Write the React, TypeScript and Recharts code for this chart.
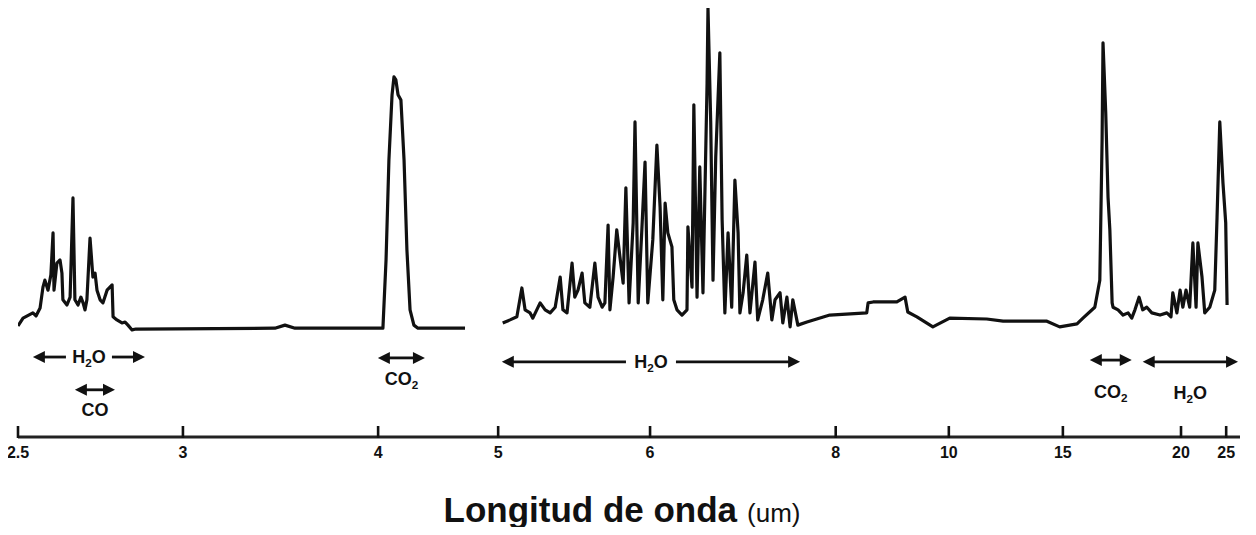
import React from 'react';
import { LineChart, Line, XAxis, YAxis, ReferenceLine, Label } from 'recharts';

// Spectrum traces: [wavenumber cm^-1, signal (0-100)]
const shortWavePoints: [number, number][] = [
  [4000, 25.4], [3979, 27.2], [3938, 28.4], [3925, 27.7], [3908, 29.5],
  [3896, 34.3], [3888, 35.9], [3875, 33.6], [3863, 37.1], [3854, 46.7],
  [3850, 33.6], [3838, 39.8], [3825, 40.5], [3817, 37.5], [3813, 31.4],
  [3796, 30.2], [3783, 32.0], [3771, 54.7], [3763, 31.4], [3750, 30.2],
  [3738, 32.0], [3729, 30.7], [3721, 29.1], [3713, 31.4], [3700, 45.5],
  [3688, 36.6], [3679, 37.5], [3671, 33.6], [3658, 31.4], [3646, 30.7],
  [3629, 33.6], [3608, 34.8], [3604, 27.5], [3588, 26.8], [3567, 26.1],
  [3554, 26.3], [3542, 25.6], [3525, 24.5], [3509, 24.7], [2930, 24.9],
  [2888, 25.6], [2846, 24.9], [2480, 24.9], [2467, 40.5], [2455, 63.4],
  [2442, 78.3], [2434, 82.4], [2426, 81.7], [2417, 78.3], [2405, 77.1],
  [2392, 63.4], [2380, 42.8], [2367, 29.1], [2351, 25.6], [2334, 24.9],
  [2138, 24.9],
];

const longWavePoints: [number, number][] = [
  [1990, 26.1], [1974, 26.8], [1959, 27.5], [1948, 34.1], [1941, 29.1],
  [1930, 28.4], [1924, 27.2], [1908, 30.7], [1897, 29.1], [1886, 28.4],
  [1875, 29.7], [1864, 36.6], [1858, 29.1], [1849, 28.4], [1838, 39.8],
  [1832, 32.0], [1825, 33.6], [1816, 37.5], [1810, 30.7], [1799, 29.7],
  [1788, 39.8], [1781, 32.0], [1772, 29.7], [1766, 30.7], [1759, 48.5],
  [1755, 29.1], [1748, 36.6], [1740, 47.4], [1733, 41.2], [1726, 35.2],
  [1720, 57.0], [1713, 30.7], [1704, 49.0], [1700, 72.1], [1693, 30.7],
  [1685, 47.4], [1678, 62.9], [1672, 30.7], [1661, 45.1], [1652, 66.8],
  [1645, 52.6], [1639, 31.4], [1634, 53.5], [1628, 46.7], [1619, 43.5],
  [1615, 31.4], [1608, 29.1], [1597, 27.9], [1586, 29.1], [1584, 48.1],
  [1575, 34.3], [1571, 76.0], [1564, 32.0], [1558, 61.8], [1551, 33.0],
  [1542, 81.0], [1540, 98.2], [1534, 71.9], [1529, 35.9], [1523, 64.1],
  [1514, 87.9], [1509, 49.7], [1503, 28.4], [1496, 46.7], [1488, 29.7],
  [1481, 58.8], [1474, 46.7], [1470, 28.4], [1463, 33.0], [1455, 41.6],
  [1448, 28.4], [1437, 40.0], [1431, 26.8], [1420, 31.4], [1409, 37.5],
  [1400, 26.8], [1393, 31.4], [1382, 33.0], [1376, 26.1], [1367, 32.0],
  [1360, 25.2], [1354, 31.4], [1343, 25.6], [1323, 26.3], [1273, 27.9],
  [1192, 28.4], [1189, 30.7], [1178, 30.9], [1126, 30.9], [1108, 32.0],
  [1102, 28.6], [1082, 27.5], [1047, 25.2], [1010, 27.2], [929, 27.0],
  [893, 26.5], [797, 26.5], [769, 25.2], [731, 25.9], [718, 27.2],
  [692, 29.7], [681, 35.9], [676, 68.0], [674, 90.2], [668, 74.1],
  [663, 54.9], [659, 47.4], [654, 30.7], [652, 29.7], [641, 29.1],
  [630, 27.9], [619, 28.4], [611, 27.2], [604, 29.1], [595, 32.0],
  [587, 29.1], [578, 29.7], [567, 28.4], [549, 27.9], [534, 28.4],
  [525, 27.5], [521, 33.0], [512, 28.4], [505, 33.6], [499, 29.7],
  [492, 33.6], [484, 29.7], [477, 44.4], [470, 29.7], [466, 44.4],
  [457, 36.6], [451, 28.4], [440, 29.7], [429, 33.6], [424, 50.3],
  [418, 72.1], [411, 58.1], [405, 49.0], [402, 30.2],
];

// Axis ticks (positions as drawn in the figure, in cm^-1) and their wavelength labels (µm)
const tickWavenumbers = [4000, 3313, 2500, 2000, 1667, 1260, 1012, 762, 503, 404];
const tickLabels = ['2.5', '3', '4', '5', '6', '8', '10', '15', '20', '25'];

// Band assignments: molecule and wavenumber span (cm^-1)
const bandFormulas = ['H2O', 'CO', 'CO2', 'H2O', 'CO2', 'H2O'];
const bandFrom = [3938, 3763, 2501, 1992, 703, 587];
const bandTo = [3471, 3596, 2305, 1338, 611, 378];
const bandLevel = [18.3, 10.8, 18.1, 17.2, 17.6, 17.2];

// layout for band labels (inline in arrow, or below with pixel offset)
const bandLayout = [
  { inline: true, gap: 46, dy: 0 },
  { inline: false, gap: 0, dy: 20 },
  { inline: false, gap: 0, dy: 21 },
  { inline: true, gap: 50, dy: 0 },
  { inline: false, gap: 0, dy: 32 },
  { inline: false, gap: 0, dy: 31 },
];

// Grating-change axis: 4000-2000 cm^-1 at one scale, 2000-400 at 1.9x
const toAxis = (wn: number) => (wn >= 2000 ? 4000 - wn : 2000 + 1.9 * (2000 - wn));

const shortData = shortWavePoints.map(([wn, v]) => ({ u: toAxis(wn), v }));
const longData = longWavePoints.map(([wn, v]) => ({ u: toAxis(wn), v }));
const tickU = tickWavenumbers.map(toAxis);

const FONT = '"Liberation Sans", Arial, sans-serif';
const INK = '#111';

function Formula({ text, x, y, size }: { text: string; x: number; y: number; size: number }) {
  const parts: React.ReactNode[] = [];
  let shifted = false;
  text.split('').forEach((ch, i) => {
    if (/[0-9]/.test(ch)) {
      parts.push(
        <tspan key={i} dy={4} fontSize={size * 0.65}>
          {ch}
        </tspan>
      );
      shifted = true;
    } else {
      parts.push(
        <tspan key={i} dy={shifted ? -4 : 0}>
          {ch}
        </tspan>
      );
      shifted = false;
    }
  });
  return (
    <text x={x} y={y} textAnchor="middle" fontFamily={FONT} fontWeight={700} fontSize={size} fill={INK}>
      {parts}
    </text>
  );
}

function BandArrow(props: any) {
  const { x1, y1, x2, y2, idx } = props;
  const layout = bandLayout[idx];
  const formula = bandFormulas[idx];
  const y = (y1 + y2) / 2;
  const left = Math.min(x1, x2);
  const right = Math.max(x1, x2);
  const head = 12;
  const half = 6;
  const cx = (left + right) / 2;
  const sw = 2.8;
  return (
    <g>
      {layout.inline ? (
        <>
          <line x1={left + head - 1} y1={y} x2={cx - layout.gap / 2} y2={y} stroke={INK} strokeWidth={sw} />
          <line x1={cx + layout.gap / 2} y1={y} x2={right - head + 1} y2={y} stroke={INK} strokeWidth={sw} />
          <Formula text={formula} x={cx} y={y + 6} size={18} />
        </>
      ) : (
        <>
          <line x1={left + head - 1} y1={y} x2={right - head + 1} y2={y} stroke={INK} strokeWidth={sw} />
          <Formula text={formula} x={cx} y={y + layout.dy + 6} size={18} />
        </>
      )}
      <polygon points={`${left},${y} ${left + head},${y - half} ${left + head},${y + half}`} fill={INK} />
      <polygon points={`${right},${y} ${right - head},${y - half} ${right - head},${y + half}`} fill={INK} />
    </g>
  );
}

function AxisTick(props: any) {
  const { x, y, index } = props;
  return (
    <g>
      <line x1={x} y1={y - 11} x2={x} y2={y + 1} stroke={INK} strokeWidth={2.6} />
      <text x={x} y={y + 21} textAnchor="middle" fontFamily={FONT} fontWeight={700} fontSize={16} fill={INK}>
        {tickLabels[index]}
      </text>
    </g>
  );
}

function Title(props: any) {
  const vb = props.viewBox || { x: 0, y: 0, width: 0 };
  const cx = vb.x + vb.width / 2 - 7;
  return (
    <text x={cx} y={vb.y + 85} textAnchor="middle" fontFamily={FONT} fill="#111">
      <tspan fontWeight={700} fontSize={35}>Longitud de onda</tspan>
      <tspan fontSize={26} dx={10}>(um)</tspan>
    </text>
  );
}

export default function App() {
  return (
    <div style={{ margin: -8, width: 1256, height: 535, background: '#fff' }}>
      <LineChart width={1256} height={535} margin={{ top: 0, right: 16, bottom: 0, left: 18 }}>
        <XAxis
          type="number"
          dataKey="u"
          domain={[0, 5090]}
          ticks={tickU}
          interval={0}
          allowDataOverflow
          height={98}
          tickSize={0}
          tickMargin={0}
          tickLine={false}
          axisLine={{ stroke: '#222', strokeWidth: 3 }}
          tick={<AxisTick />}
        >
          <Label content={<Title />} />
        </XAxis>
        <YAxis hide domain={[0, 100]} type="number" />
        <Line
          data={shortData}
          dataKey="v"
          type="linear"
          stroke={INK}
          strokeWidth={3.2}
          strokeLinejoin="round"
          dot={false}
          activeDot={false}
          isAnimationActive={false}
        />
        <Line
          data={longData}
          dataKey="v"
          type="linear"
          stroke={INK}
          strokeWidth={3.2}
          strokeLinejoin="round"
          dot={false}
          activeDot={false}
          isAnimationActive={false}
        />
        {bandFormulas.map((f, i) => (
          <ReferenceLine
            key={i}
            segment={[
              { x: toAxis(bandFrom[i]), y: bandLevel[i] },
              { x: toAxis(bandTo[i]), y: bandLevel[i] },
            ]}
            ifOverflow="visible"
            shape={(p: any) => <BandArrow {...p} idx={i} />}
          />
        ))}
      </LineChart>
    </div>
  );
}
